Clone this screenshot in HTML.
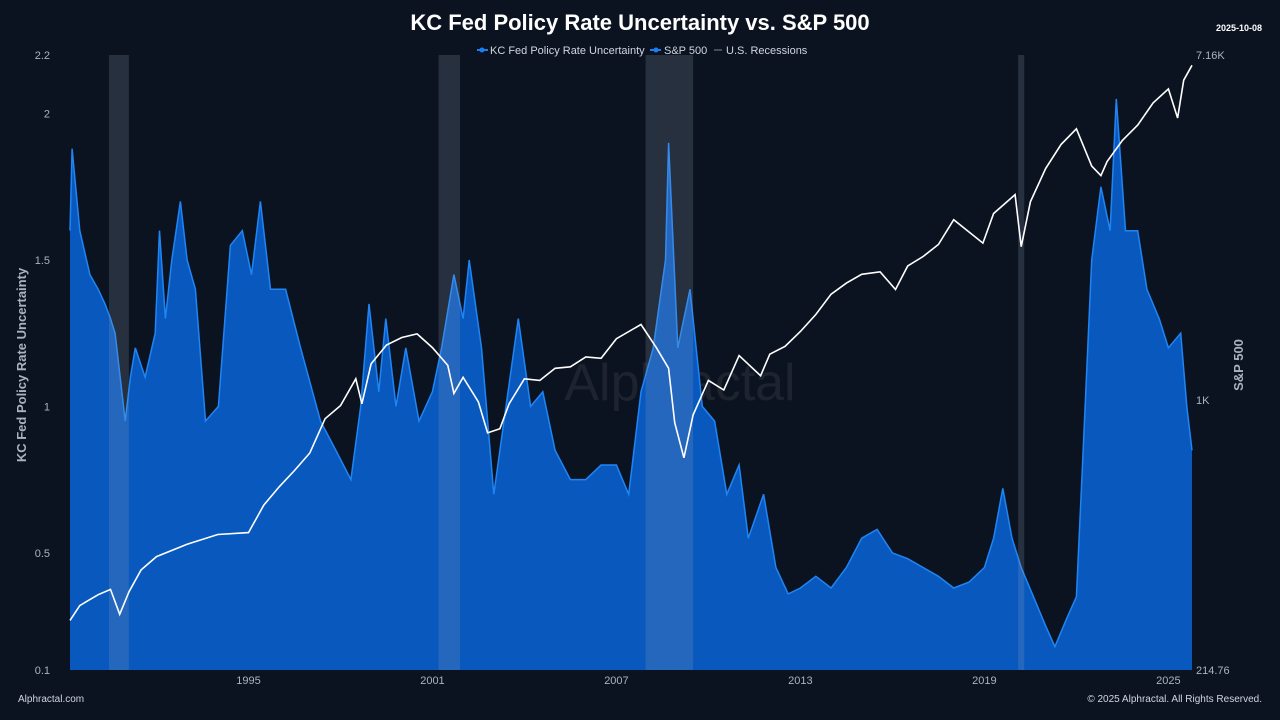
<!DOCTYPE html>
<html><head><meta charset="utf-8">
<style>
body{margin:0;background:#0c1320;width:1280px;height:720px;overflow:hidden;font-family:"Liberation Sans",sans-serif}
svg{display:block}
</style></head>
<body>
<svg id="chart" width="1280" height="720">
<rect width="1280" height="720" fill="#0c1320"/>
<text x="640" y="30" text-anchor="middle" fill="#fff" font-size="22" font-weight="bold">KC Fed Policy Rate Uncertainty vs. S&amp;P 500</text>
<text x="1262" y="31" text-anchor="end" fill="#fff" font-size="9" font-weight="bold">2025-10-08</text>
<g font-size="11" fill="#cfd6e0">
<g><line x1="477" y1="50" x2="488" y2="50" stroke="#1a7ef0" stroke-width="2"/><circle cx="482" cy="50" r="2.5" fill="#1a7ef0"/><text x="490" y="54">KC Fed Policy Rate Uncertainty</text></g>
<g><line x1="650" y1="50" x2="661" y2="50" stroke="#1a7ef0" stroke-width="2"/><circle cx="656" cy="50" r="2.5" fill="#1a7ef0"/><text x="664" y="54">S&amp;P 500</text></g>
<g><line x1="714" y1="50" x2="722" y2="50" stroke="#444d5a" stroke-width="2"/><text x="726" y="54">U.S. Recessions</text></g>
</g>
<text x="680" y="400" text-anchor="middle" fill="#ffffff" fill-opacity="0.07" font-size="52">Alphractal</text>
<g id="area"></g>
<g id="rec"></g>
<g id="sp"></g>
<g id="axes" font-size="11" fill="#aab3c0"></g>
<text transform="translate(26,365) rotate(-90)" text-anchor="middle" fill="#aab3c0" font-size="13" font-weight="bold">KC Fed Policy Rate Uncertainty</text>
<text transform="translate(1243,365) rotate(-90)" text-anchor="middle" fill="#aab3c0" font-size="13" font-weight="bold">S&amp;P 500</text>
<text x="18" y="702" fill="#cfd6e0" font-size="10">Alphractal.com</text>
<text x="1262" y="702" text-anchor="end" fill="#cfd6e0" font-size="10">© 2025 Alphractal. All Rights Reserved.</text>
</svg>
<script>
const uncT=[1989.18,1989.25,1989.5,1989.83,1990.1,1990.32,1990.5,1990.65,1990.98,1991.15,1991.31,1991.63,1991.96,1992.1,1992.29,1992.5,1992.78,1993.0,1993.27,1993.6,1994.02,1994.41,1994.8,1995.1,1995.39,1995.72,1996.21,1996.7,1997.35,1997.85,1998.34,1998.66,1998.93,1999.25,1999.48,1999.81,2000.13,2000.56,2001.0,2001.3,2001.7,2002.0,2002.2,2002.6,2003.0,2003.4,2003.8,2004.2,2004.6,2005.0,2005.5,2006.0,2006.5,2007.0,2007.4,2007.8,2008.2,2008.6,2008.7,2009.0,2009.4,2009.8,2010.2,2010.6,2011.0,2011.3,2011.8,2012.2,2012.6,2013.0,2013.5,2014.0,2014.5,2015.0,2015.5,2016.0,2016.5,2017.0,2017.5,2018.0,2018.5,2019.0,2019.3,2019.6,2019.9,2020.2,2020.6,2021.0,2021.3,2021.7,2022.0,2022.2,2022.5,2022.8,2023.1,2023.3,2023.6,2024.0,2024.3,2024.7,2025.0,2025.4,2025.6,2025.77];
const uncV=[1.6,1.88,1.6,1.45,1.4,1.35,1.3,1.25,0.95,1.1,1.2,1.1,1.25,1.6,1.3,1.5,1.7,1.5,1.4,0.95,1.0,1.55,1.6,1.45,1.7,1.4,1.4,1.2,0.95,0.85,0.75,1.0,1.35,1.05,1.3,1.0,1.2,0.95,1.05,1.2,1.45,1.3,1.5,1.2,0.7,1.0,1.3,1.0,1.05,0.85,0.75,0.75,0.8,0.8,0.7,1.05,1.2,1.5,1.9,1.2,1.4,1.0,0.95,0.7,0.8,0.55,0.7,0.45,0.36,0.38,0.42,0.38,0.45,0.55,0.58,0.5,0.48,0.45,0.42,0.38,0.4,0.45,0.55,0.72,0.55,0.45,0.35,0.25,0.18,0.28,0.35,0.8,1.5,1.75,1.6,2.05,1.6,1.6,1.4,1.3,1.2,1.25,1.0,0.85];
const spT=[1989.18,1989.5,1989.8,1990.1,1990.5,1990.8,1991.1,1991.5,1992,1993,1994,1995,1995.5,1996,1996.5,1997,1997.5,1998,1998.5,1998.7,1999,1999.5,2000,2000.5,2001,2001.5,2001.7,2002,2002.5,2002.8,2003.2,2003.5,2004,2004.5,2005,2005.5,2006,2006.5,2007,2007.8,2008.3,2008.7,2008.9,2009.2,2009.5,2010,2010.5,2011,2011.7,2012,2012.5,2013,2013.5,2014,2014.5,2015,2015.6,2016.1,2016.5,2017,2017.5,2018,2018.95,2019.3,2020,2020.2,2020.5,2021,2021.5,2022,2022.5,2022.8,2023,2023.5,2024,2024.5,2025,2025.3,2025.5,2025.77];
const spV=[285,310,320,330,340,295,335,380,410,440,465,470,550,610,670,740,900,970,1130,980,1230,1370,1430,1460,1350,1220,1040,1140,990,830,850,980,1130,1120,1200,1210,1280,1270,1420,1540,1350,1200,880,720,920,1120,1060,1290,1150,1300,1360,1480,1630,1830,1950,2050,2080,1880,2150,2270,2430,2800,2450,2900,3230,2400,3100,3750,4300,4700,3800,3600,3900,4400,4800,5450,5900,5000,6200,6750];
const recStart=[1990.45,2001.2,2007.95,2020.1];
const recEnd=[1991.1,2001.9,2009.5,2020.3];
const leftTicks=[0.1,0.5,1,1.5,2,2.2];
const rightTicks=[214.76,1000,7160];
const rightLabels=["214.76","1K","7.16K"];
const xTicks=[1995,2001,2007,2013,2019,2025];

const NS="http://www.w3.org/2000/svg";
const X0=70,X1=1192,T0=1989.18,T1=2025.77,YT=55,YB=670;
const x=t=>X0+(t-T0)/(T1-T0)*(X1-X0);
const yL=v=>YB-(v-0.1)/(2.2-0.1)*(YB-YT);
const lo=Math.log10(214.76),hi=Math.log10(7160);
const yR=v=>YB-(Math.log10(v)-lo)/(hi-lo)*(YB-YT);
function mk(tag,attrs,parent){const e=document.createElementNS(NS,tag);for(const k in attrs)e.setAttribute(k,attrs[k]);parent.appendChild(e);return e;}
const rec=document.getElementById('rec');
recStart.forEach((s,i)=>{const r=mk('rect',{x:x(s),y:YT,width:x(recEnd[i])-x(s),height:YB-YT,fill:'#8fa3c0','fill-opacity':0.2},rec);

});
const area=document.getElementById('area');
let d='M'+x(uncT[0])+','+YB;uncT.forEach((t,i)=>d+=' L'+x(t).toFixed(1)+','+yL(uncV[i]).toFixed(1));d+=' L'+x(uncT[uncT.length-1])+','+YB+' Z';
const a=mk('path',{d:d,fill:'#0a5cc6','fill-opacity':0.95},area);


let l='';uncT.forEach((t,i)=>l+=(i?' L':'M')+x(t).toFixed(1)+','+yL(uncV[i]).toFixed(1));
const ul=mk('path',{d:l,fill:'none',stroke:'#1f85f5','stroke-width':1.5},area);


let s='';spT.forEach((t,i)=>s+=(i?' L':'M')+x(t).toFixed(1)+','+yR(spV[i]).toFixed(1));
const sl=mk('path',{d:s,fill:'none',stroke:'#ffffff','stroke-width':1.6},document.getElementById('sp'));


const ax=document.getElementById('axes');
leftTicks.forEach(v=>{const t=mk('text',{x:50,y:yL(v)+4,'text-anchor':'end'},ax);t.textContent=v;

});
rightTicks.forEach((v,i)=>{const t=mk('text',{x:1196,y:yR(v)+4},ax);t.textContent=rightLabels[i];

});
xTicks.forEach(v=>{const t=mk('text',{x:x(v),y:684,'text-anchor':'middle'},ax);t.textContent=v;

});
</script>
</body></html>
